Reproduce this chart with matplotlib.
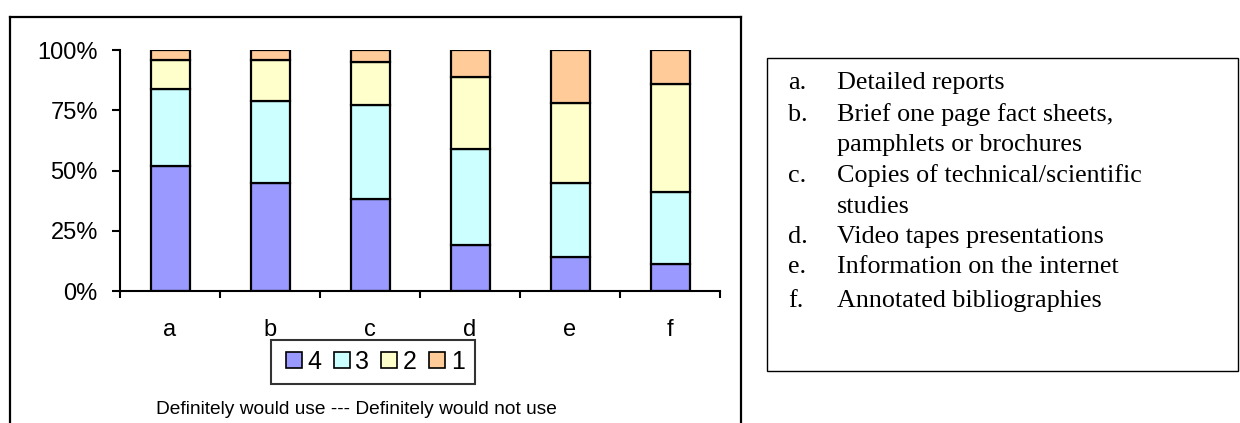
import matplotlib.pyplot as plt
from matplotlib.patches import Rectangle
from matplotlib.lines import Line2D
import numpy as np

plt.rcParams['font.family'] = ['Liberation Sans', 'DejaVu Sans']

# media types a-f, share of answers per rating (percent)
categories = ['a', 'b', 'c', 'd', 'e', 'f']
ratings = ['4', '3', '2', '1']
r4 = [52, 45, 38, 19, 14, 11]
r3 = [32, 34, 39, 40, 31, 30]
r2 = [12, 17, 18, 30, 33, 45]
r1 = [4, 4, 5, 11, 22, 14]
colors = ['#9999FF', '#CCFFFF', '#FFFFCC', '#FFCC99']

key_letters = ['a.', 'b.', '', 'c.', '', 'd.', 'e.', 'f.']
key_texts = ['Detailed reports', 'Brief one page fact sheets,', 'pamphlets or brochures',
             'Copies of technical/scientific', 'studies', 'Video tapes presentations',
             'Information on the internet', 'Annotated bibliographies']

W, H = 1240, 423
fig = plt.figure(figsize=(W / 100, H / 100), dpi=100)

def fx(px):
    return px / W

def fy(py):
    return 1 - py / H

ax = fig.add_axes([fx(120), fy(291), fx(720) - fx(120), fy(50) - fy(291)])

x = np.arange(len(categories))
bottom = np.zeros(len(categories))
for vals, c in zip([r4, r3, r2, r1], colors):
    ax.bar(x, vals, 0.39, bottom=bottom, color=c, edgecolor='black', linewidth=1.6)
    bottom += np.array(vals)

ax.set_xlim(-0.5, len(categories) - 0.5)
ax.set_ylim(0, 100)
ax.set_yticks([0, 25, 50, 75, 100])
ax.set_yticklabels(['0%', '25%', '50%', '75%', '100%'], fontsize=17)
ax.set_xticks(np.arange(-0.5, len(categories)), labels=[])
ax.set_xticks(x, labels=categories, minor=True, fontsize=17)
ax.tick_params(axis='y', direction='out', length=6, width=1.5, pad=10)
ax.tick_params(axis='x', which='major', direction='out', length=5, width=1.5)
ax.tick_params(axis='x', which='minor', length=0, pad=20)
for s in ['top', 'right']:
    ax.spines[s].set_visible(False)
for s in ['left', 'bottom']:
    ax.spines[s].set_linewidth(1.5)

handles = [Line2D([], [], marker='s', linestyle='none', markersize=11,
                  markerfacecolor=c, markeredgecolor='black', markeredgewidth=1.2)
           for c in colors]
leg = fig.legend(handles, ratings, loc='center', bbox_to_anchor=(fx(373), fy(362)),
                 ncol=4, fontsize=18, frameon=True, fancybox=False,
                 handletextpad=0.05, columnspacing=0.3, handlelength=1.0,
                 borderpad=0.4, borderaxespad=0)
leg.get_frame().set_edgecolor('black')
leg.get_frame().set_linewidth(1.5)

fig.text(fx(356), fy(409), 'Definitely would use --- Definitely would not use',
         ha='center', va='center', fontsize=13.8)

# outer chart frame (open at the bottom)
frame = dict(color='black', linewidth=1.6, transform=fig.transFigure)
fig.add_artist(Line2D([fx(10), fx(10)], [fy(17), 0], **frame))
fig.add_artist(Line2D([fx(10), fx(741)], [fy(17), fy(17)], **frame))
fig.add_artist(Line2D([fx(741), fx(741)], [fy(17), 0], **frame))

# key box on the right
fig.add_artist(Rectangle((fx(767), fy(371)), fx(1238) - fx(767), fy(58) - fy(371),
                         transform=fig.transFigure, fill=False, edgecolor='black', linewidth=1.0))
line_y = [83, 115, 145, 176, 207, 237, 267, 301]
for yy, lt, tt in zip(line_y, key_letters, key_texts):
    fig.text(fx(788), fy(yy), lt, ha='left', va='center', fontsize=18.8, family='Liberation Serif')
    fig.text(fx(837), fy(yy), tt, ha='left', va='center', fontsize=18.8, family='Liberation Serif')

fig.savefig('out.png', dpi=100)
